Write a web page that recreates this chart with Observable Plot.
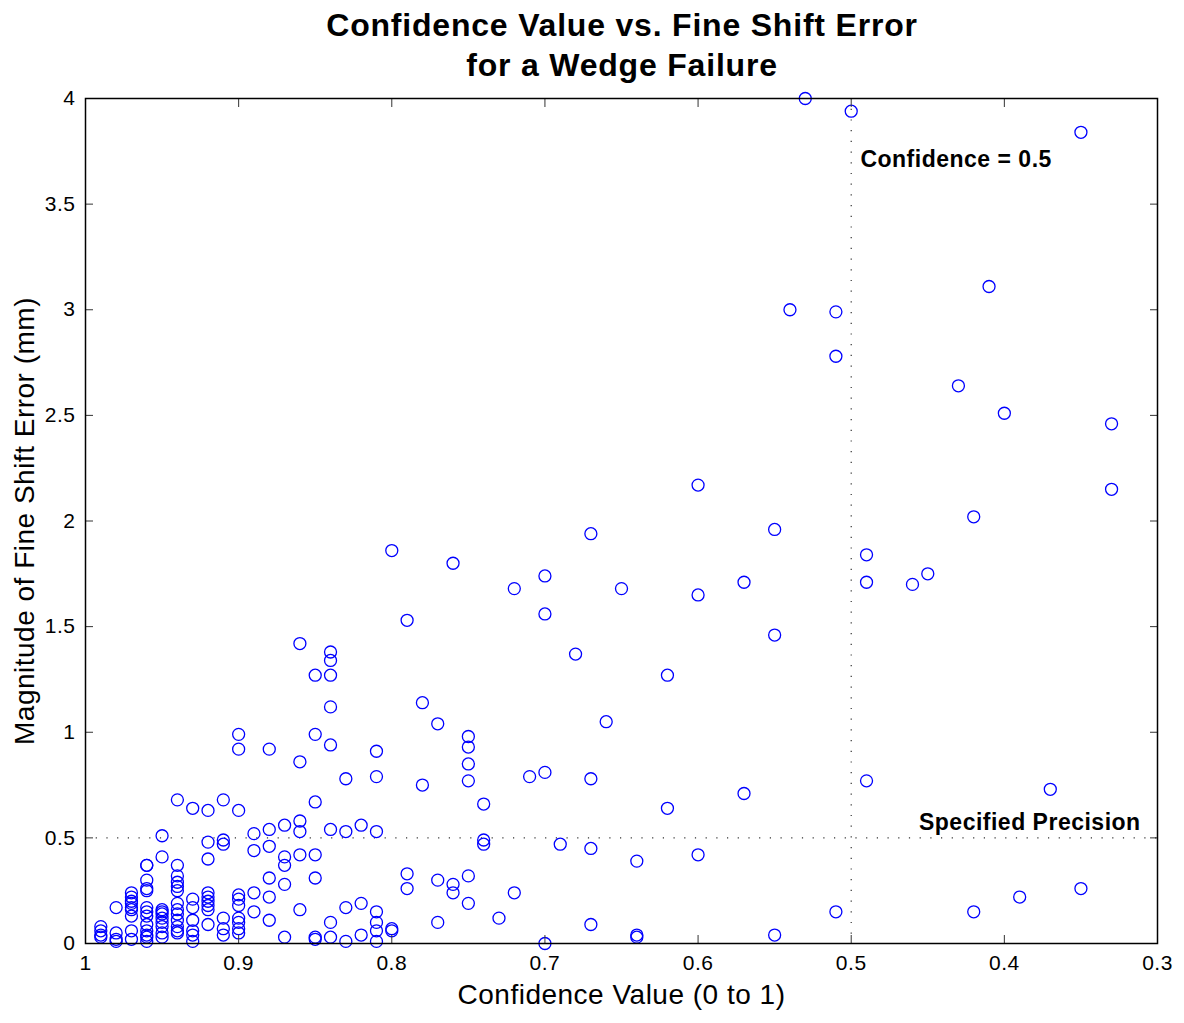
<!DOCTYPE html>
<html><head><meta charset="utf-8">
<script src="https://cdn.jsdelivr.net/npm/d3@7"></script>
<script src="https://cdn.jsdelivr.net/npm/@observablehq/plot@0.6"></script>
<style>
body{margin:0;background:#fff;font-family:"Liberation Sans",Arial,sans-serif;}
#title{width:1184px;height:88px;text-align:center;font-weight:bold;font-size:32px;letter-spacing:0.8px;line-height:40px;padding-top:5px;box-sizing:border-box;padding-left:60px;color:#000}
#chart svg{display:block}
#chart svg text{letter-spacing:0.5px}
</style></head><body>
<div id="title">Confidence Value vs. Fine Shift Error<br>for a Wedge Failure</div>
<div id="chart"></div>
<script>
// Confidence value (x) and magnitude of fine shift error in mm (y), read column by column
const confidence = [
  0.99,0.99,0.99,0.99,
  0.98,0.98,0.98,0.98,
  0.97,0.97,0.97,0.97,0.97,0.97,0.97,0.97,0.97,
  0.96,0.96,0.96,0.96,0.96,0.96,0.96,0.96,0.96,0.96,0.96,0.96,0.96,
  0.95,0.95,0.95,0.95,0.95,0.95,0.95,0.95,0.95,0.95,
  0.94,0.94,0.94,0.94,0.94,0.94,0.94,0.94,0.94,0.94,0.94,0.94,0.94,
  0.93,0.93,0.93,0.93,0.93,0.93,0.93,
  0.92,0.92,0.92,0.92,0.92,0.92,0.92,0.92,0.92,
  0.91,0.91,0.91,0.91,0.91,0.91,
  0.90,0.90,0.90,0.90,0.90,0.90,0.90,0.90,0.90,0.90,
  0.89,0.89,0.89,0.89,
  0.88,0.88,0.88,0.88,0.88,0.88,
  0.87,0.87,0.87,0.87,0.87,
  0.86,0.86,0.86,0.86,0.86,0.86,
  0.85,0.85,0.85,0.85,0.85,0.85,0.85,
  0.84,0.84,0.84,0.84,0.84,0.84,0.84,0.84,
  0.83,0.83,0.83,0.83,
  0.82,0.82,0.82,
  0.81,0.81,0.81,0.81,0.81,0.81,0.81,
  0.80,0.80,0.80,
  0.79,0.79,0.79,
  0.78,0.78,
  0.77,0.77,0.77,
  0.76,0.76,0.76,
  0.75,0.75,0.75,0.75,0.75,0.75,
  0.74,0.74,0.74,
  0.73,
  0.72,0.72,
  0.71,
  0.70,0.70,0.70,0.70,
  0.69,
  0.68,
  0.67,0.67,0.67,0.67,
  0.66,
  0.65,
  0.64,0.64,0.64,
  0.62,0.62,
  0.60,0.60,0.60,
  0.57,0.57,
  0.55,0.55,0.55,
  0.54,
  0.53,
  0.51,0.51,0.51,
  0.50,
  0.49,0.49,0.49,
  0.46,
  0.45,
  0.43,
  0.42,0.42,
  0.41,
  0.40,
  0.39,
  0.37,
  0.35,0.35,
  0.33,0.33
];
const shiftError = [
  0.08,0.06,0.04,0.03,
  0.17,0.05,0.02,0.01,
  0.24,0.22,0.20,0.19,0.17,0.16,0.13,0.06,0.02,
  0.37,0.37,0.30,0.26,0.25,0.17,0.15,0.13,0.09,0.06,0.04,0.03,0.01,
  0.51,0.41,0.16,0.15,0.14,0.12,0.10,0.08,0.05,0.03,
  0.68,0.37,0.32,0.29,0.27,0.25,0.19,0.16,0.14,0.11,0.08,0.06,0.05,
  0.64,0.21,0.17,0.11,0.06,0.04,0.01,
  0.63,0.48,0.40,0.24,0.22,0.20,0.18,0.16,0.09,
  0.68,0.49,0.47,0.12,0.07,0.04,
  0.99,0.92,0.63,0.23,0.21,0.18,0.12,0.10,0.07,0.05,
  0.52,0.44,0.24,0.15,
  0.92,0.54,0.46,0.31,0.22,0.11,
  0.56,0.41,0.37,0.28,0.03,
  1.42,0.86,0.58,0.53,0.42,0.16,
  1.27,0.99,0.67,0.42,0.31,0.03,0.02,
  1.38,1.34,1.27,1.12,0.94,0.54,0.10,0.03,
  0.78,0.53,0.17,0.01,
  0.56,0.19,0.04,
  0.91,0.79,0.53,0.15,0.10,0.06,0.01,
  1.86,0.07,0.06,
  1.53,0.33,0.26,
  1.14,0.75,
  1.04,0.30,0.10,
  1.80,0.28,0.24,
  0.98,0.93,0.85,0.77,0.32,0.19,
  0.66,0.49,0.47,
  0.12,
  1.68,0.24,
  0.79,
  1.74,1.56,0.81,0.00,
  0.47,
  1.37,
  1.94,0.78,0.45,0.09,
  1.05,
  1.68,
  0.39,0.04,0.03,
  1.27,0.64,
  2.17,1.65,0.42,
  1.71,0.71,
  1.96,1.46,0.04,
  3.00,
  4.00,
  2.99,2.78,0.15,
  3.94,
  1.84,1.71,0.77,
  1.70,
  1.75,
  2.64,
  2.02,0.15,
  3.11,
  2.51,
  0.22,
  0.73,
  3.84,0.26,
  2.46,2.15
];
const xTicks = [1, 0.9, 0.8, 0.7, 0.6, 0.5, 0.4, 0.3];
const yTicks = [0, 0.5, 1, 1.5, 2, 2.5, 3, 3.5, 4];
const xLabel = "Confidence Value (0 to 1)";
const yLabel = "Magnitude of Fine Shift Error (mm)";
const thresholdConfidence = [0.5];
const specifiedPrecision = [0.5];
const notes = ["Confidence = 0.5", "Specified Precision"];
const noteX = [0.494, 0.311];
const noteY = [3.71, 0.57];
const noteAnchor = ["start", "end"];

const points = confidence.map((c, i) => ({c, e: shiftError[i]}));
const noteData = notes.map((t, i) => ({t, x: noteX[i], y: noteY[i], a: noteAnchor[i]}));

const fmt = d => String(d);
const chart = Plot.plot({
  width: 1184,
  height: 935,
  marginTop: 10,
  marginLeft: 85,
  marginRight: 27,
  marginBottom: 80,
  style: {fontFamily: "'Liberation Sans', Arial, sans-serif", fontSize: "21px", color: "#000", background: "#fff", overflow: "visible"},
  x: {domain: [1, 0.3]},
  y: {domain: [0, 4]},
  marks: [
    Plot.ruleX(thresholdConfidence, {stroke: "#333", strokeWidth: 1.2, strokeDasharray: "1.2,9.5"}),
    Plot.ruleY(specifiedPrecision, {stroke: "#333", strokeWidth: 1.2, strokeDasharray: "1.2,9.5"}),
    Plot.dot(points, {x: "c", y: "e", r: 6, stroke: "#0000ff", fill: "none", strokeWidth: 1.3}),
    Plot.text(noteData.filter(d => d.a === "start"), {x: "x", y: "y", text: "t", textAnchor: "start", fontWeight: "bold", fontSize: 23, fill: "#000"}),
    Plot.text(noteData.filter(d => d.a === "end"), {x: "x", y: "y", text: "t", textAnchor: "end", fontWeight: "bold", fontSize: 23, fill: "#000"}),
    Plot.axisX({anchor: "bottom", ticks: xTicks, tickSize: -8, tickPadding: 20, tickFormat: fmt, stroke: "#333", label: null}),
    Plot.axisX({anchor: "top", ticks: xTicks, tickSize: -8, tickFormat: () => "", label: null, stroke: "#333"}),
    Plot.axisY({anchor: "left", ticks: yTicks, tickSize: -8, tickPadding: 18, tickFormat: fmt, stroke: "#333", label: null}),
    Plot.axisY({anchor: "right", ticks: yTicks, tickSize: -8, tickFormat: () => "", label: null, stroke: "#333"}),
    Plot.text([xLabel], {frameAnchor: "bottom", dy: 52, lineAnchor: "middle", textAnchor: "middle", fontSize: 28, fill: "#000"}),
    Plot.text([yLabel], {frameAnchor: "left", dx: -60, rotate: -90, lineAnchor: "middle", textAnchor: "middle", fontSize: 28, fill: "#000"}),
    Plot.frame({stroke: "#000", strokeWidth: 1.5})
  ]
});
document.getElementById("chart").appendChild(chart);
</script>
</body></html>
